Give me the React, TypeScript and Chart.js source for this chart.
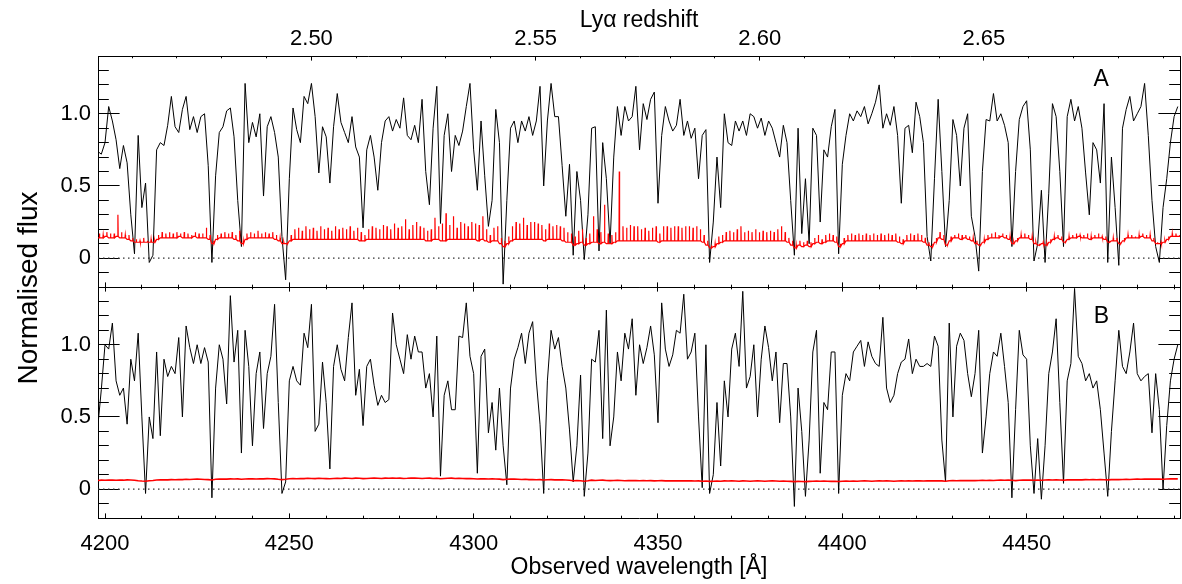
import React, { useEffect, useRef } from "react";
import { Chart, registerables } from "chart.js";

Chart.register(...registerables);

const FONT = '"Liberation Sans", Arial, Helvetica, sans-serif';

// Spectral sampling grid (Å)
const WAVE_START = 4198;
const WAVE_STEP = 1;

// Axis ranges
const X_MIN = 4198.1;
const X_MAX = 4491.6;
const Y_MIN = -0.2;
const Y_MAX = 1.4;
const LYA_REST = 1216.0; // Å used for the redshift axis

// Tick values
const X_MAJOR = [4200, 4250, 4300, 4350, 4400, 4450];
const X_MINOR = [4200, 4210, 4220, 4230, 4240, 4250, 4260, 4270, 4280, 4290, 4300, 4310, 4320, 4330, 4340, 4350, 4360, 4370, 4380, 4390, 4400, 4410, 4420, 4430, 4440, 4450, 4460, 4470, 4480, 4490];
const Z_MAJOR = [2.5, 2.55, 2.6, 2.65];
const Z_MINOR = [2.46, 2.47, 2.48, 2.49, 2.5, 2.51, 2.52, 2.53, 2.54, 2.55, 2.56, 2.57, 2.58, 2.59, 2.6, 2.61, 2.62, 2.63, 2.64, 2.65, 2.66, 2.67, 2.68, 2.69];
const Y_MAJOR = [0, 0.5, 1.0];
const Y_MAJOR_LABELS = ["0", "0.5", "1.0"];
const Y_MINOR = [-0.1, 0, 0.1, 0.2, 0.3, 0.4, 0.5, 0.6, 0.7, 0.8, 0.9, 1.0, 1.1, 1.2, 1.3];

// Panel A: normalised flux, 4198..4491 Å
const FLUX_A = [
  0.74, 0.72, 0.80, 1.05, 0.95, 0.82, 0.62, 0.78, 0.66, 0.30, // 4198
  0.03, 0.85, 0.35, 0.52, -0.03, 0.02, 0.75, 0.80, 0.78, 0.92, // 4208
  1.12, 0.91, 0.87, 1.03, 1.12, 0.89, 0.98, 0.87, 0.98, 1.00, // 4218
  0.64, -0.03, 0.57, 0.87, 0.91, 1.02, 1.04, 0.84, 0.40, 0.08, // 4228
  1.21, 0.80, 0.94, 0.84, 1.00, 0.43, 0.91, 0.98, 0.87, 0.70, // 4238
  0.15, -0.15, 0.55, 1.04, 0.89, 0.80, 1.12, 1.07, 1.21, 0.98, // 4248
  0.59, 0.91, 0.84, 0.52, 0.91, 1.14, 0.94, 0.87, 0.80, 0.98, // 4258
  0.77, 0.70, 0.21, 0.75, 0.85, 0.70, 0.47, 0.80, 0.95, 0.98, // 4268
  0.88, 0.96, 0.90, 1.11, 0.85, 0.82, 0.92, 0.80, 1.10, 0.60, // 4278
  0.37, 0.90, 1.19, 0.24, 0.85, 1.00, 0.60, 0.85, 0.78, 0.88, // 4288
  1.05, 1.21, 0.75, 0.47, 0.95, 0.57, 0.22, 0.40, 1.03, 0.80, // 4298
  -0.18, 0.40, 0.90, 0.95, 0.80, 0.95, 0.88, 0.98, 0.85, 0.95, // 4308
  1.19, 0.50, 0.95, 1.21, 0.98, 0.98, 0.64, 0.29, 0.65, 0.02, // 4318
  0.60, 0.40, -0.01, 0.30, 0.90, 0.91, 0.05, 0.80, 0.55, 0.10, // 4328
  0.70, 1.05, 0.85, 1.05, 0.95, 0.98, 1.19, 0.75, 1.07, 0.96, // 4338
  1.10, 1.15, 0.38, 0.85, 1.05, 0.95, 0.88, 0.92, 1.10, 0.85, // 4348
  0.95, 0.83, 0.90, 0.55, 0.85, 0.89, -0.03, 0.25, 0.70, 0.35, // 4358
  1.00, 0.80, 0.78, 0.95, 0.88, 0.95, 0.85, 1.00, 0.98, 0.90, // 4368
  0.97, 0.85, 0.95, 0.90, 0.80, 0.70, 0.92, 0.80, 0.40, 0.02, // 4378
  0.90, 0.17, 0.55, 0.10, 0.90, 0.85, 0.25, 0.75, 0.70, 0.91, // 4388
  1.03, 0.03, 0.65, 0.85, 1.00, 0.95, 1.02, 0.98, 1.05, 0.93, // 4398
  1.00, 1.08, 1.20, 0.90, 1.00, 0.92, 1.05, 0.85, 0.38, 0.90, // 4408
  0.92, 0.73, 1.08, 0.98, 0.80, 0.15, -0.02, 0.55, 1.10, 0.60, // 4418
  0.08, 0.40, 0.96, 0.85, 0.50, 0.90, 1.00, 0.29, 0.15, -0.09, // 4428
  0.60, 0.96, 0.95, 1.14, 0.95, 1.00, 0.92, 0.80, 0.08, 0.60, // 4438
  0.96, 1.05, 1.09, 0.75, -0.02, 0.10, 0.47, -0.03, 0.45, 1.07, // 4448
  0.98, 0.60, 0.08, 0.98, 1.10, 0.95, 1.05, 0.90, 0.59, 0.30, // 4458
  0.80, 0.75, 0.52, 1.07, -0.03, 0.70, 0.35, -0.05, 0.90, 1.03, // 4468
  1.12, 0.95, 1.00, 1.05, 1.21, 0.85, 0.40, 0.08, -0.03, 0.35, // 4478
  0.55, 0.80, 0.98, 1.05, // 4488
];

// Panel A: error spectrum, base level and the narrow spike that follows each sample
const ERR_A_BASE = [
  0.14, 0.14, 0.15, 0.14, 0.14, 0.15, 0.14, 0.14, 0.13, 0.12,
  0.11, 0.11, 0.11, 0.11, 0.11, 0.11, 0.13, 0.14, 0.14, 0.14,
  0.14, 0.14, 0.15, 0.14, 0.14, 0.14, 0.15, 0.14, 0.14, 0.14,
  0.13, 0.10, 0.13, 0.14, 0.14, 0.14, 0.14, 0.13, 0.12, 0.10,
  0.13, 0.14, 0.14, 0.14, 0.14, 0.14, 0.14, 0.14, 0.13, 0.12,
  0.10, 0.10, 0.12, 0.13, 0.13, 0.13, 0.13, 0.13, 0.13, 0.13,
  0.13, 0.13, 0.13, 0.13, 0.13, 0.13, 0.13, 0.13, 0.13, 0.13,
  0.13, 0.12, 0.12, 0.13, 0.13, 0.13, 0.13, 0.13, 0.13, 0.13,
  0.13, 0.13, 0.13, 0.13, 0.13, 0.13, 0.13, 0.13, 0.13, 0.12,
  0.12, 0.13, 0.13, 0.12, 0.12, 0.13, 0.13, 0.13, 0.13, 0.13,
  0.13, 0.13, 0.13, 0.12, 0.13, 0.12, 0.11, 0.12, 0.12, 0.10,
  0.08, 0.10, 0.12, 0.13, 0.13, 0.13, 0.13, 0.13, 0.13, 0.13,
  0.13, 0.12, 0.13, 0.13, 0.13, 0.13, 0.12, 0.11, 0.11, 0.09,
  0.10, 0.11, 0.09, 0.10, 0.11, 0.11, 0.10, 0.11, 0.10, 0.10,
  0.11, 0.12, 0.12, 0.12, 0.12, 0.12, 0.12, 0.12, 0.12, 0.12,
  0.12, 0.12, 0.11, 0.12, 0.12, 0.12, 0.12, 0.12, 0.12, 0.12,
  0.12, 0.12, 0.12, 0.12, 0.11, 0.09, 0.07, 0.08, 0.10, 0.11,
  0.12, 0.12, 0.12, 0.12, 0.12, 0.12, 0.12, 0.12, 0.12, 0.12,
  0.12, 0.12, 0.12, 0.12, 0.12, 0.12, 0.12, 0.11, 0.09, 0.07,
  0.09, 0.08, 0.09, 0.08, 0.10, 0.11, 0.10, 0.11, 0.12, 0.12,
  0.11, 0.08, 0.10, 0.12, 0.12, 0.12, 0.12, 0.12, 0.12, 0.12,
  0.12, 0.12, 0.12, 0.12, 0.12, 0.12, 0.12, 0.11, 0.10, 0.12,
  0.12, 0.12, 0.12, 0.12, 0.11, 0.09, 0.08, 0.11, 0.14, 0.13,
  0.09, 0.12, 0.14, 0.14, 0.13, 0.14, 0.13, 0.12, 0.10, 0.09,
  0.11, 0.13, 0.14, 0.14, 0.14, 0.15, 0.14, 0.13, 0.10, 0.12,
  0.14, 0.14, 0.14, 0.13, 0.10, 0.09, 0.10, 0.09, 0.11, 0.13,
  0.14, 0.13, 0.11, 0.13, 0.14, 0.14, 0.15, 0.14, 0.14, 0.13,
  0.14, 0.14, 0.14, 0.13, 0.11, 0.12, 0.12, 0.10, 0.12, 0.14,
  0.14, 0.14, 0.14, 0.15, 0.14, 0.14, 0.12, 0.10, 0.10, 0.11,
  0.13, 0.15, 0.15, 0.15,
];
const ERR_A_PEAK = [
  0.17, 0.16, 0.18, 0.17, 0.17, 0.30, 0.18, 0.16, 0.16, 0.14,
  0.13, 0.12, 0.14, 0.12, 0.13, 0.12, 0.16, 0.18, 0.17, 0.18,
  0.17, 0.18, 0.17, 0.18, 0.17, 0.16, 0.18, 0.17, 0.17, 0.21,
  0.16, 0.12, 0.16, 0.17, 0.18, 0.17, 0.18, 0.16, 0.19, 0.12,
  0.17, 0.18, 0.17, 0.19, 0.17, 0.18, 0.17, 0.18, 0.16, 0.14,
  0.11, 0.11, 0.16, 0.20, 0.21, 0.19, 0.22, 0.20, 0.21, 0.19,
  0.22, 0.20, 0.21, 0.19, 0.22, 0.20, 0.21, 0.20, 0.22, 0.19,
  0.21, 0.18, 0.16, 0.20, 0.22, 0.21, 0.20, 0.23, 0.22, 0.20,
  0.24, 0.21, 0.22, 0.27, 0.20, 0.23, 0.25, 0.22, 0.21, 0.19,
  0.20, 0.28, 0.22, 0.24, 0.31, 0.23, 0.29, 0.21, 0.25, 0.24,
  0.22, 0.25, 0.24, 0.23, 0.29, 0.20, 0.16, 0.21, 0.22, 0.14,
  0.12, 0.15, 0.22, 0.25, 0.24, 0.28, 0.23, 0.25, 0.25, 0.24,
  0.23, 0.20, 0.24, 0.22, 0.23, 0.22, 0.21, 0.18, 0.17, 0.15,
  0.19, 0.20, 0.14, 0.17, 0.29, 0.20, 0.18, 0.37, 0.17, 0.16,
  0.18, 0.60, 0.22, 0.21, 0.23, 0.22, 0.22, 0.20, 0.21, 0.19,
  0.21, 0.22, 0.17, 0.22, 0.22, 0.21, 0.22, 0.22, 0.21, 0.22,
  0.22, 0.21, 0.22, 0.20, 0.16, 0.12, 0.09, 0.10, 0.15, 0.16,
  0.18, 0.19, 0.18, 0.20, 0.22, 0.18, 0.19, 0.18, 0.20, 0.18,
  0.19, 0.18, 0.19, 0.18, 0.20, 0.22, 0.18, 0.14, 0.12, 0.09,
  0.12, 0.11, 0.12, 0.11, 0.14, 0.16, 0.13, 0.16, 0.17, 0.16,
  0.15, 0.10, 0.14, 0.16, 0.17, 0.16, 0.17, 0.16, 0.17, 0.16,
  0.17, 0.16, 0.17, 0.16, 0.17, 0.16, 0.17, 0.15, 0.13, 0.16,
  0.17, 0.16, 0.17, 0.16, 0.14, 0.11, 0.10, 0.14, 0.18, 0.16,
  0.10, 0.15, 0.16, 0.17, 0.16, 0.16, 0.15, 0.14, 0.12, 0.10,
  0.13, 0.16, 0.17, 0.18, 0.16, 0.17, 0.16, 0.15, 0.11, 0.14,
  0.16, 0.17, 0.16, 0.15, 0.11, 0.10, 0.11, 0.10, 0.13, 0.15,
  0.16, 0.15, 0.12, 0.15, 0.16, 0.17, 0.16, 0.16, 0.17, 0.15,
  0.16, 0.17, 0.15, 0.15, 0.12, 0.14, 0.14, 0.11, 0.14, 0.16,
  0.16, 0.15, 0.16, 0.17, 0.16, 0.16, 0.14, 0.11, 0.11, 0.12,
  0.15, 0.17, 0.17, 0.16,
];

// Panel B: normalised flux, 4198..4491 Å
const FLUX_B = [
  0.42, 0.69, 1.00, 0.97, 1.15, 0.75, 0.65, 0.70, 0.45, 0.90, // 4198
  0.75, 1.08, 0.50, -0.03, 0.50, 0.35, 0.95, 0.37, 0.90, 0.78, // 4208
  0.85, 0.80, 1.05, 0.50, 1.13, 0.98, 0.87, 1.00, 0.87, 0.98, // 4218
  0.88, -0.06, 0.70, 1.00, 0.90, 0.59, 1.34, 0.88, 1.10, 0.25, // 4228
  1.10, 0.85, 0.30, 0.80, 0.95, 0.42, 0.80, 0.92, 1.28, 0.60, // 4238
  -0.03, 0.05, 0.75, 0.85, 0.75, 0.72, 1.08, 0.98, 1.28, 0.40, // 4248
  0.45, 0.88, 0.60, 0.14, 0.85, 1.00, 0.83, 0.75, 1.05, 1.29, // 4258
  0.65, 0.83, 0.44, 0.85, 0.90, 0.72, 0.58, 0.65, 0.60, 0.62, // 4268
  1.22, 1.00, 0.90, 0.80, 1.07, 0.90, 1.06, 0.95, 0.95, 0.70, // 4278
  0.80, 0.50, 1.06, 0.09, 0.65, 0.75, 0.55, 0.55, 1.06, 1.05, // 4288
  1.29, 0.92, 0.80, 0.11, 0.92, 0.97, 0.39, 0.60, 0.27, 0.70, // 4298
  0.30, 0.03, 0.70, 0.90, 0.98, 1.08, 0.87, 1.08, 1.16, 0.75, // 4308
  0.45, -0.03, 0.75, 1.10, 0.97, 1.05, 0.85, 0.70, 0.41, 0.05, // 4318
  0.30, 0.79, -0.05, 0.25, 0.90, 0.88, 1.10, 0.35, 1.24, 0.30, // 4328
  0.50, 0.95, 0.75, 1.08, 0.97, 1.18, 0.65, 1.00, 0.87, 0.98, // 4338
  1.13, 0.93, 0.46, 1.29, 0.97, 0.85, 0.93, 1.10, 1.08, 1.35, // 4348
  0.90, 0.95, 1.08, 0.50, 0.01, 1.00, -0.03, 0.10, 0.60, 0.16, // 4358
  0.75, 0.50, 0.97, 1.08, 0.85, 1.37, 0.70, 0.78, 1.00, 0.50, // 4368
  0.90, 1.13, 0.98, 0.75, 0.95, 0.46, 0.87, 0.87, 0.50, -0.12, // 4378
  0.70, 0.40, -0.05, 0.34, 0.95, 1.10, 0.11, 0.60, 0.55, 0.95, // 4388
  0.95, -0.03, 0.65, 0.80, 0.75, 0.95, 0.99, 1.03, 0.85, 1.02, // 4398
  0.92, 0.87, 0.85, 1.19, 0.70, 0.60, 0.65, 0.80, 0.88, 0.90, // 4408
  1.04, 0.80, 0.90, 0.85, 0.85, 0.87, 0.85, 1.06, 0.99, 0.34, // 4418
  0.05, 1.15, 0.50, 0.99, 1.08, 1.03, 0.80, 0.64, 0.80, 1.10, // 4428
  0.25, 0.50, 0.80, 0.95, 0.92, 1.08, 0.85, 0.60, -0.06, 0.55, // 4438
  1.10, 0.93, 0.90, 0.30, -0.03, 0.35, -0.07, 0.30, 0.80, 0.95, // 4448
  1.18, 0.60, 0.04, 0.75, 0.87, 1.39, 0.92, 0.87, 0.75, 0.80, // 4458
  0.70, 0.75, 0.55, 0.25, -0.05, 0.40, 0.75, 1.10, 0.85, 0.80, // 4468
  0.95, 1.15, 0.80, 0.75, 0.78, 0.80, 0.39, 0.80, 0.55, 0.00, // 4478
  0.44, 0.75, 0.90, 1.00, // 4488
];

// Panel B: error spectrum
const ERR_B = [
  0.060, 0.062, 0.061, 0.063, 0.062, 0.061, 0.063, 0.062, 0.064, 0.063,
  0.062, 0.058, 0.056, 0.055, 0.058, 0.060, 0.063, 0.064, 0.065, 0.064,
  0.066, 0.065, 0.067, 0.066, 0.068, 0.067, 0.068, 0.069, 0.068, 0.067,
  0.066, 0.063, 0.068, 0.069, 0.070, 0.069, 0.071, 0.070, 0.071, 0.068,
  0.070, 0.071, 0.072, 0.070, 0.072, 0.071, 0.073, 0.072, 0.071, 0.068,
  0.066, 0.068, 0.072, 0.073, 0.072, 0.074, 0.073, 0.075, 0.074, 0.073,
  0.075, 0.074, 0.073, 0.072, 0.074, 0.075, 0.074, 0.076, 0.075, 0.074,
  0.076, 0.075, 0.073, 0.074, 0.075, 0.076, 0.075, 0.074, 0.076, 0.075,
  0.077, 0.075, 0.076, 0.074, 0.075, 0.077, 0.076, 0.075, 0.074, 0.075,
  0.076, 0.074, 0.075, 0.072, 0.074, 0.075, 0.076, 0.074, 0.075, 0.074,
  0.073, 0.074, 0.072, 0.070, 0.072, 0.071, 0.070, 0.071, 0.070, 0.069,
  0.066, 0.068, 0.070, 0.069, 0.068, 0.067, 0.068, 0.066, 0.067, 0.065,
  0.066, 0.063, 0.065, 0.066, 0.064, 0.065, 0.064, 0.063, 0.062, 0.058,
  0.060, 0.058, 0.055, 0.058, 0.062, 0.060, 0.061, 0.062, 0.060, 0.059,
  0.060, 0.061, 0.060, 0.058, 0.059, 0.060, 0.059, 0.058, 0.059, 0.058,
  0.059, 0.057, 0.058, 0.059, 0.057, 0.058, 0.057, 0.058, 0.057, 0.058,
  0.057, 0.058, 0.056, 0.057, 0.055, 0.056, 0.054, 0.055, 0.056, 0.055,
  0.057, 0.056, 0.057, 0.056, 0.055, 0.057, 0.056, 0.055, 0.056, 0.057,
  0.056, 0.055, 0.056, 0.057, 0.056, 0.055, 0.056, 0.055, 0.054, 0.052,
  0.054, 0.053, 0.052, 0.054, 0.055, 0.056, 0.055, 0.056, 0.055, 0.054,
  0.055, 0.053, 0.055, 0.056, 0.055, 0.056, 0.055, 0.056, 0.057, 0.056,
  0.055, 0.056, 0.057, 0.056, 0.057, 0.056, 0.055, 0.056, 0.057, 0.056,
  0.057, 0.056, 0.058, 0.057, 0.056, 0.057, 0.058, 0.057, 0.058, 0.057,
  0.055, 0.058, 0.059, 0.058, 0.059, 0.060, 0.059, 0.060, 0.059, 0.060,
  0.061, 0.060, 0.061, 0.060, 0.061, 0.062, 0.061, 0.062, 0.061, 0.059,
  0.061, 0.062, 0.063, 0.062, 0.061, 0.062, 0.061, 0.063, 0.064, 0.063,
  0.064, 0.063, 0.062, 0.064, 0.065, 0.064, 0.065, 0.064, 0.066, 0.065,
  0.066, 0.065, 0.066, 0.065, 0.064, 0.066, 0.067, 0.066, 0.067, 0.068,
  0.067, 0.068, 0.069, 0.068, 0.069, 0.070, 0.069, 0.070, 0.069, 0.068,
  0.070, 0.071, 0.072, 0.071,
];

// Panel tags, positioned in data coordinates
const TAG_A = { text: "A", wave: 4470.2, flux: 1.235 };
const TAG_B = { text: "B", wave: 4470.3, flux: 1.198 };

const TICK_FONT = { family: FONT, size: 22 };
const TITLE_FONT = { family: FONT, size: 23 };

type AxisSpec = {
  axis: "x" | "y";
  position: "top" | "bottom" | "left" | "right";
  min: number;
  max: number;
  values: number[];
  labels?: string[];
  len: number;
  weight: number;
  size: number;
  border: boolean;
  padding?: number;
  title?: any;
};

function makeAxis(s: AxisSpec) {
  return {
    type: "linear",
    axis: s.axis,
    position: s.position,
    min: s.min,
    max: s.max,
    weight: s.weight,
    bounds: "data",
    afterBuildTicks: (scale: any) => {
      scale.ticks = s.values.map((v) => ({ value: v }));
    },
    afterFit: (scale: any) => {
      if (s.axis === "x") scale.height = s.size;
      else scale.width = s.size;
      scale.paddingLeft = 0;
      scale.paddingRight = 0;
      scale.paddingTop = 0;
      scale.paddingBottom = 0;
    },
    grid: {
      display: true,
      drawOnChartArea: false,
      drawTicks: true,
      tickLength: -s.len,
      tickColor: "#000",
      tickWidth: 1,
    },
    border: { display: s.border, color: "#000", width: 1 },
    ticks: {
      display: !!s.labels,
      autoSkip: false,
      maxRotation: 0,
      minRotation: 0,
      padding: s.padding ?? 0,
      color: "#000",
      font: TICK_FONT,
      callback: (_v: any, i: number) => (s.labels ? s.labels[i] : ""),
    },
    title: s.title ?? { display: false },
  };
}

function yAxes() {
  return {
    y: makeAxis({ axis: "y", position: "left", min: Y_MIN, max: Y_MAX, values: Y_MAJOR, labels: Y_MAJOR_LABELS, len: 21.6, weight: 1, size: 98, border: true, padding: 28.6 }),
    yMinor: makeAxis({ axis: "y", position: "left", min: Y_MIN, max: Y_MAX, values: Y_MINOR, len: 10.8, weight: 0, size: 0, border: false }),
    yRight: makeAxis({ axis: "y", position: "right", min: Y_MIN, max: Y_MAX, values: Y_MAJOR, len: 21.6, weight: 1, size: 2, border: true }),
    yRightMinor: makeAxis({ axis: "y", position: "right", min: Y_MIN, max: Y_MAX, values: Y_MINOR, len: 10.8, weight: 0, size: 0, border: false }),
  };
}

function spectrumPoints(flux: number[]) {
  return flux.map((f, i) => ({ x: WAVE_START + i * WAVE_STEP, y: f }));
}

// Each sample: flat base, then a narrow spike half a step later
function spikyErrorPoints(base: number[], peak: number[]) {
  const pts: { x: number; y: number }[] = [];
  base.forEach((b, i) => {
    const w = WAVE_START + i * WAVE_STEP;
    pts.push(
      { x: w, y: b },
      { x: w + WAVE_STEP * 0.42, y: b },
      { x: w + WAVE_STEP * 0.5, y: peak[i] },
      { x: w + WAVE_STEP * 0.58, y: b }
    );
  });
  return pts;
}

function tagPlugin(tag: { text: string; wave: number; flux: number }) {
  return {
    id: "panelTag" + tag.text,
    afterDatasetsDraw(chart: any) {
      const { ctx, scales } = chart;
      ctx.save();
      ctx.font = `23px ${FONT}`;
      ctx.fillStyle = "#000";
      ctx.textAlign = "center";
      ctx.textBaseline = "middle";
      ctx.fillText(tag.text, scales.x.getPixelForValue(tag.wave), scales.y.getPixelForValue(tag.flux));
      ctx.restore();
    },
  };
}

function datasets(flux: number[], err: { x: number; y: number }[], errWidth: number) {
  return [
    {
      data: err,
      borderColor: "#ff0000",
      borderWidth: errWidth,
      pointRadius: 0,
      tension: 0,
      xAxisID: "x",
      yAxisID: "y",
    },
    {
      data: spectrumPoints(flux),
      borderColor: "#000000",
      borderWidth: 1,
      pointRadius: 0,
      tension: 0,
      xAxisID: "x",
      yAxisID: "y",
    },
    {
      data: [
        { x: X_MIN, y: 0 },
        { x: X_MAX, y: 0 },
      ],
      borderColor: "#333333",
      borderWidth: 1.2,
      borderDash: [1.5, 3.5],
      pointRadius: 0,
      xAxisID: "x",
      yAxisID: "y",
    },
  ];
}

const baseOptions = {
  responsive: false,
  maintainAspectRatio: false,
  animation: false,
  devicePixelRatio: 1,
  events: [],
  layout: { padding: 0 },
  plugins: { legend: { display: false }, tooltip: { enabled: false } },
  elements: { point: { radius: 0 }, line: { tension: 0 } },
};

export default function App() {
  const refA = useRef<HTMLCanvasElement>(null);
  const refB = useRef<HTMLCanvasElement>(null);

  useEffect(() => {
    const zWave = (z: number) => LYA_REST * (1 + z);

    const chartA = new Chart(refA.current as HTMLCanvasElement, {
      type: "line",
      data: { datasets: datasets(FLUX_A, spikyErrorPoints(ERR_A_BASE, ERR_A_PEAK), 1.2) as any },
      options: {
        ...baseOptions,
        scales: {
          x: makeAxis({ axis: "x", position: "bottom", min: X_MIN, max: X_MAX, values: X_MAJOR, len: 4.6, weight: 1, size: 1, border: true }),
          xMinor: makeAxis({ axis: "x", position: "bottom", min: X_MIN, max: X_MAX, values: X_MINOR, len: 2.3, weight: 0, size: 0, border: false }),
          xTop: makeAxis({
            axis: "x",
            position: "top",
            min: X_MIN,
            max: X_MAX,
            values: Z_MAJOR.map(zWave),
            labels: Z_MAJOR.map((z) => z.toFixed(2)),
            len: 4.6,
            weight: 1,
            size: 56,
            border: true,
            padding: 8.3,
            title: { display: true, text: "Lyα redshift", color: "#000", font: TITLE_FONT, padding: { top: 7, bottom: 0 } },
          }),
          xTopMinor: makeAxis({ axis: "x", position: "top", min: X_MIN, max: X_MAX, values: Z_MINOR.map(zWave), len: 2.3, weight: 0, size: 0, border: false }),
          ...yAxes(),
        } as any,
      } as any,
      plugins: [tagPlugin(TAG_A)],
    });

    const chartB = new Chart(refB.current as HTMLCanvasElement, {
      type: "line",
      data: { datasets: datasets(FLUX_B, spectrumPoints(ERR_B), 1.6) as any },
      options: {
        ...baseOptions,
        scales: {
          x: makeAxis({
            axis: "x",
            position: "bottom",
            min: X_MIN,
            max: X_MAX,
            values: X_MAJOR,
            labels: X_MAJOR.map((v) => String(v)),
            len: 4.6,
            weight: 1,
            size: 66,
            border: true,
            padding: 17.8,
            title: { display: true, text: "Observed wavelength [Å]", color: "#000", font: TITLE_FONT, padding: { top: 0, bottom: 3 } },
          }),
          xMinor: makeAxis({ axis: "x", position: "bottom", min: X_MIN, max: X_MAX, values: X_MINOR, len: 2.3, weight: 0, size: 0, border: false }),
          xTop: makeAxis({ axis: "x", position: "top", min: X_MIN, max: X_MAX, values: X_MAJOR, len: 4.6, weight: 1, size: 1, border: true }),
          xTopMinor: makeAxis({ axis: "x", position: "top", min: X_MIN, max: X_MAX, values: X_MINOR, len: 2.3, weight: 0, size: 0, border: false }),
          ...yAxes(),
        } as any,
      } as any,
      plugins: [tagPlugin(TAG_B)],
    });

    return () => {
      chartA.destroy();
      chartB.destroy();
    };
  }, []);

  return (
    <div style={{ position: "absolute", left: 0, top: 0, width: 1182, height: 584, background: "#fff", overflow: "hidden" }}>
      <canvas ref={refA} width={1182} height={288} style={{ position: "absolute", left: 0, top: 0, width: 1182, height: 288 }} />
      <canvas ref={refB} width={1182} height={298} style={{ position: "absolute", left: 0, top: 286, width: 1182, height: 298 }} />
      <div
        style={{
          position: "absolute",
          left: 28 - 160,
          top: 288 - 17,
          width: 320,
          height: 34,
          lineHeight: "34px",
          textAlign: "center",
          fontSize: 28,
          fontFamily: FONT,
          color: "#000",
          whiteSpace: "nowrap",
          transform: "rotate(-90deg)",
        }}
      >
        Normalised flux
      </div>
    </div>
  );
}
